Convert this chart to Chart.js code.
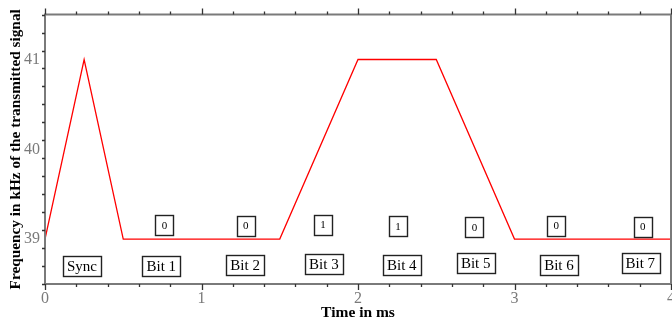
<!DOCTYPE html>
<html>
<head>
<meta charset="utf-8">
<script src="https://cdn.jsdelivr.net/npm/chart.js@4"></script>
<style>
  html, body { margin: 0; padding: 0; background: #fff; overflow: hidden; }
  #wrap { width: 680px; height: 322px; }
</style>
</head>
<body>
<div id="wrap"><canvas id="mainChart"></canvas></div>
<script>
// Signal: time in ms / frequency in kHz
var timeMs = [0, 0.25, 0.5, 1.5, 2, 2.5, 3, 4];
var freqKHz = [39, 41, 39, 39, 41, 41, 39, 39];

// Bit name boxes under the curve
var bitNames = ['Sync', 'Bit 1', 'Bit 2', 'Bit 3', 'Bit 4', 'Bit 5', 'Bit 6', 'Bit 7'];
var bitNameX = [0.236, 0.743, 1.279, 1.782, 2.28, 2.752, 3.284, 3.804];
var bitNameY = [38.696, 38.696, 38.715, 38.724, 38.716, 38.735, 38.716, 38.735];

// Bit value boxes
var bitValues = ['0', '0', '1', '1', '0', '0', '0'];
var bitValueX = [0.763, 1.282, 1.777, 2.256, 2.744, 3.267, 3.819];
var bitValueY = [39.155, 39.151, 39.162, 39.144, 39.133, 39.151, 39.14];

var xTicks = [0, 1, 2, 3, 4];
var yTicks = [39, 40, 41];

var axisGray = '#7a7a7a';
var serif = '"Liberation Serif", "DejaVu Serif", serif';

var points = timeMs.map(function(t, i) { return {x: t, y: freqKHz[i]}; });

// Frame with outward ticks (major at integers, minor every 0.2)
var framePlugin = {
    id: 'frame',
    afterDraw: function(chart) {
        var ctx = chart.ctx;
        var a = chart.chartArea;
        var xs = chart.scales.x, ys = chart.scales.y;
        ctx.save();
        ctx.strokeStyle = axisGray;
        ctx.lineWidth = 2;
        ctx.beginPath();
        ctx.moveTo(a.left, a.top); ctx.lineTo(a.right + 2, a.top);
        ctx.moveTo(a.left, a.bottom); ctx.lineTo(a.right + 2, a.bottom);
        ctx.moveTo(a.left, a.top - 1); ctx.lineTo(a.left, a.bottom + 1);
        ctx.moveTo(a.right, a.top - 1); ctx.lineTo(a.right, a.bottom + 1);
        ctx.stroke();
        ctx.lineWidth = 1.3;
        ctx.strokeStyle = '#333';
        ctx.beginPath();
        var i, v, px, len;
        for (i = 0; i <= 20; i++) {
            v = i * 0.2;
            px = Math.round(xs.getPixelForValue(v)) + 0.5;
            len = (i % 5 === 0) ? 6 : 3;
            ctx.moveTo(px, a.top); ctx.lineTo(px, a.top - len);
            ctx.moveTo(px, a.bottom); ctx.lineTo(px, a.bottom + len);
        }
        for (i = 0; i <= 15; i++) {
            v = 38.5 + i * 0.2;
            if (v > 41.5) break;
            px = Math.round(ys.getPixelForValue(v)) + 0.5;
            len = (Math.abs(v - Math.round(v)) < 0.01) ? 6 : 3;
            ctx.moveTo(a.left, px); ctx.lineTo(a.left - len, px);
        }
        ctx.stroke();
        ctx.restore();
    }
};

// Draw a text label in a framed box at data coordinates
var drawBox = function(ctx, xs, ys, text, x, y, size, minW) {
    var cx = xs.getPixelForValue(x);
    var cy = ys.getPixelForValue(y);
    ctx.font = size + 'px ' + serif;
    var w = Math.max(ctx.measureText(text).width + 8, minW);
    var h = 20;
    ctx.fillStyle = '#fff';
    ctx.fillRect(cx - w / 2, cy - h / 2, w, h);
    ctx.strokeStyle = '#222';
    ctx.lineWidth = 1.4;
    ctx.strokeRect(Math.round(cx - w / 2) + 0.5, Math.round(cy - h / 2) + 0.5, Math.round(w), h);
    ctx.fillStyle = '#000';
    ctx.textAlign = 'center';
    ctx.textBaseline = 'middle';
    ctx.fillText(text, cx, cy + 1);
};

var boxesPlugin = {
    id: 'boxes',
    afterDatasetsDraw: function(chart) {
        var ctx = chart.ctx;
        var xs = chart.scales.x, ys = chart.scales.y;
        ctx.save();
        for (var i = 0; i < bitNames.length; i++) {
            drawBox(ctx, xs, ys, bitNames[i], bitNameX[i], bitNameY[i], 15, 36);
        }
        for (var j = 0; j < bitValues.length; j++) {
            drawBox(ctx, xs, ys, bitValues[j], bitValueX[j], bitValueY[j], 11, 18);
        }
        ctx.restore();
    }
};

var chartContainer = document.getElementById('mainChart');
var chartOptions = {
    type: 'line',
    data: {
        datasets: [
            {
                label: 'Frequency',
                data: points,
                borderColor: '#ff0000',
                borderWidth: 1.3,
                pointRadius: 0,
                tension: 0,
                fill: false
            }
        ]
    },
    options: {
        responsive: false,
        animation: false,
        devicePixelRatio: 1,
        layout: { padding: { top: 13, right: 7, left: 0, bottom: 0 } },
        plugins: { legend: { display: false }, tooltip: { enabled: false } },
        scales: {
            x: {
                type: 'linear',
                min: 0,
                max: 4,
                afterBuildTicks: function(scale) {
                    scale.ticks = xTicks.map(function(v) { return {value: v}; });
                },
                afterFit: function(scale) { scale.height = 38; },
                grid: { display: false, drawTicks: false },
                border: { display: false },
                ticks: {
                    color: axisGray,
                    padding: 5,
                    maxRotation: 0,
                    autoSkip: false,
                    font: { family: serif, size: 16 }
                },
                title: {
                    display: true,
                    text: 'Time in ms',
                    color: '#000',
                    padding: { top: -2, bottom: 0 },
                    font: { family: serif, size: 15.5, weight: 'bold' }
                }
            },
            y: {
                type: 'linear',
                min: 38.5,
                max: 41.5,
                afterBuildTicks: function(scale) {
                    scale.ticks = yTicks.map(function(v) { return {value: v}; });
                },
                afterFit: function(scale) { scale.width = 45; },
                grid: { display: false, drawTicks: false },
                border: { display: false },
                ticks: {
                    color: axisGray,
                    padding: 5,
                    autoSkip: false,
                    font: { family: serif, size: 16 }
                },
                title: {
                    display: true,
                    text: 'Frequency in kHz of the transmitted signal',
                    color: '#000',
                    padding: { top: 7, bottom: 0 },
                    font: { family: serif, size: 15.3, weight: 'bold' }
                }
            }
        }
    },
    plugins: [framePlugin, boxesPlugin]
};
chartContainer.width = 680;
chartContainer.height = 322;
var mainChart = new Chart(chartContainer, chartOptions);
</script>
</body>
</html>
